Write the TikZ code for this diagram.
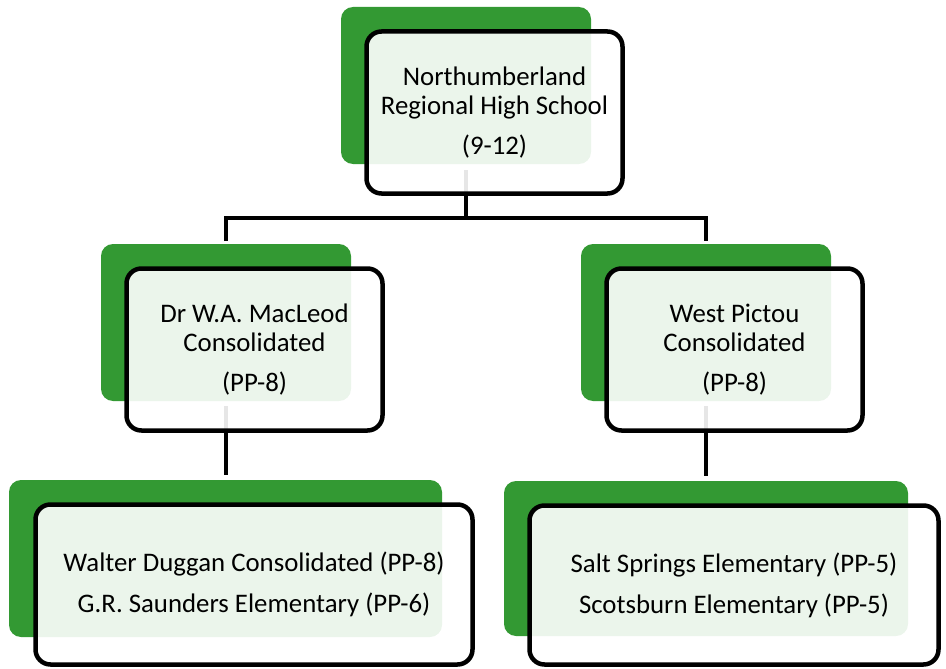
\documentclass[tikz,border=0pt]{standalone}
\usepackage{fontspec}
\setmainfont{Carlito}
\usetikzlibrary{calc}
\definecolor{leaf}{RGB}{51,153,51}

\begin{document}
\begin{tikzpicture}[x=1pt,y=-1pt,
  font=\fontsize{26.8}{28.5}\selectfont,
  back/.style={fill=leaf,rounded corners=12pt,inner sep=0pt,outer sep=0pt},
  card/.style={draw=black,line width=4.5pt,fill=white,fill opacity=0.9,text opacity=1,
    rounded corners=15pt,align=center,inner sep=0pt,outer sep=0pt},
  conn/.style={line width=4.5pt}
]
\useasboundingbox (0,0) rectangle (946,669);

% green backs
\node[back,minimum width=250pt,minimum height=157pt] (gnrhs) at (466,85.5) {};
\node[back,minimum width=250pt,minimum height=157pt] (gmacleod) at (226,322.5) {};
\node[back,minimum width=250pt,minimum height=157pt] (gwest) at (706,322.5) {};
\node[back,minimum width=433pt,minimum height=157pt] (gduggan) at (225.5,558.5) {};
\node[back,minimum width=404pt,minimum height=155pt] (gsalt) at (706,558.5) {};

% connectors
\coordinate (bus) at (466,218);
\draw[conn] ([yshift=-6pt]gnrhs.south) -- (bus);
\draw[conn] ([yshift=3pt]gmacleod.north) |- (bus) -| ([yshift=3pt]gwest.north);
\draw[conn] ([yshift=-5pt]gmacleod.south) -- ([yshift=5pt]gmacleod.south |- gduggan.north);
\draw[conn] ([yshift=-5pt]gwest.south) -- ([yshift=5pt]gwest.south |- gsalt.north);

% front cards
\node[card,minimum width=256pt,minimum height=162pt] (nrhs) at (494.5,112.5)
  {Northumberland\\Regional High School\\[11.5pt](9-12)};
\node[card,minimum width=256pt,minimum height=162pt] (macleod) at (254.5,349.5)
  {Dr W.A. MacLeod\\Consolidated\\[11.5pt](PP-8)};
\node[card,minimum width=256pt,minimum height=162pt] (west) at (734.5,349.5)
  {West Pictou\\Consolidated\\[11.5pt](PP-8)};
\node[card,minimum width=437pt,minimum height=160pt] (duggan) at (254,584.5)
  {Walter Duggan Consolidated (PP-8)\\[12.5pt]G.R. Saunders Elementary (PP-6)};
\node[card,minimum width=409pt,minimum height=159pt] (salt) at (734,585)
  {Salt Springs Elementary (PP-5)\\[12.5pt]Scotsburn Elementary (PP-5)};
\end{tikzpicture}
\end{document}
